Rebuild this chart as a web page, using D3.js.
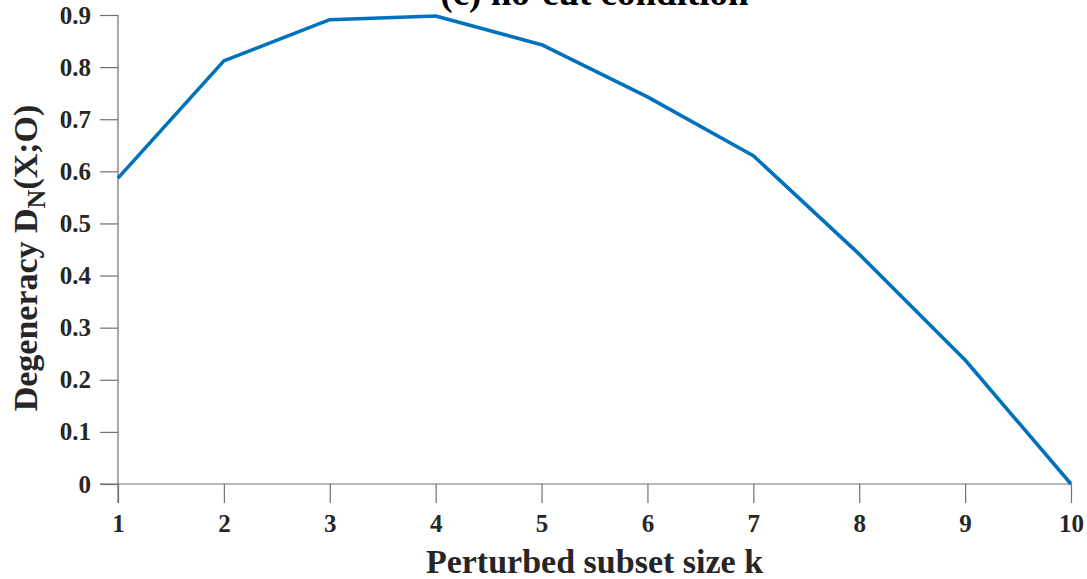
<!DOCTYPE html>
<html><head><meta charset="utf-8">
<script src="https://cdn.jsdelivr.net/npm/d3@7"></script>
<style>body{margin:0;background:#fff}svg{display:block}</style>
</head><body>
<svg id="c" width="1087" height="579"></svg>
<script>
const kValues = [1,2,3,4,5,6,7,8,9,10];
const degeneracy = [0.587,0.812,0.891,0.898,0.843,0.743,0.630,0.441,0.238,0.0];
const yTicks = [0,0.1,0.2,0.3,0.4,0.5,0.6,0.7,0.8,0.9];
const xTicks = [1,2,3,4,5,6,7,8,9,10];
const titleText = "(c) no-cut condition";
const xLabel = "Perturbed subset size k";

const svg = d3.select("#c");
const L=118, R=1071, T=15, B=484;
const x = d3.scaleLinear().domain([1,10]).range([L,R]);
const y = d3.scaleLinear().domain([0,0.9]).range([B,T]);
const font = "'Liberation Serif','Times New Roman',serif";
const axisCol = "#707070", textCol = "#262626";

const gx = svg.append("g").attr("transform",`translate(0,${B})`)
  .call(d3.axisBottom(x).tickValues(xTicks).tickFormat(d3.format("d")).tickSizeInner(19).tickSizeOuter(0).tickPadding(11));
const gy = svg.append("g").attr("transform",`translate(${L},0)`)
  .call(d3.axisLeft(y).tickValues(yTicks).tickFormat(d=>d===0?"0":d3.format(".1f")(d)).tickSizeInner(18).tickSizeOuter(0).tickPadding(9));
[gx,gy].forEach(g=>{
  g.selectAll("path,line").attr("stroke",axisCol).attr("stroke-width",1.2);
  g.selectAll("text").attr("fill",textCol).style("font-family",font).style("font-weight","bold").style("font-size","25px");
});
gx.select(".domain").attr("d",`M${L-18},0H${R}`);
gy.select(".domain").attr("d",`M0,${T}V${B+19}`);

const line = d3.line().x((d,i)=>x(kValues[i])).y(d=>y(d));
svg.append("path").datum(degeneracy).attr("d",line)
  .attr("fill","none").attr("stroke","#0072BD").attr("stroke-width",3.6).attr("stroke-linejoin","round");

svg.append("text").attr("x",(L+R)/2).attr("y",5).attr("text-anchor","middle")
  .attr("fill","#000").style("font-family",font).style("font-size","37px").style("font-weight","bold").text(titleText);

svg.append("text").attr("x",(L+R)/2).attr("y",573).attr("text-anchor","middle")
  .attr("fill",textCol).style("font-family",font).style("font-size","34px").style("font-weight","bold").text(xLabel);

const yl = svg.append("text").attr("transform","translate(37,258) rotate(-90)").attr("text-anchor","middle")
  .attr("fill",textCol).style("font-family",font).style("font-size","34px").style("font-weight","bold");
yl.append("tspan").text("Degeneracy D");
yl.append("tspan").attr("dy",8).style("font-size","26px").text("N");
yl.append("tspan").attr("dy",-8).text("(X;O)");
</script>
</body></html>
